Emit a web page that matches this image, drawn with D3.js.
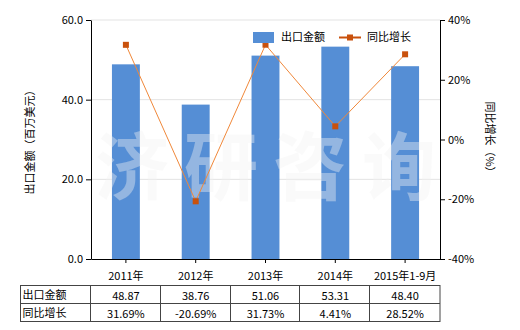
<!DOCTYPE html>
<html>
<head>
<meta charset="utf-8">
<script src="https://cdn.jsdelivr.net/npm/d3@7"></script>
<style>
  body { margin: 0; background: #fff; }
  svg text { font-family: "Noto Sans CJK SC", "DejaVu Sans", sans-serif; font-size: 11px; fill: #000; }
</style>
</head>
<body>
<svg width="520" height="330"></svg>
<script>
// chart data
var categories = ["2011年", "2012年", "2013年", "2014年", "2015年1-9月"];
var exportValues = [48.87, 38.76, 51.06, 53.31, 48.40];
var growthValues = [31.69, -20.69, 31.73, 4.41, 28.52];
var leftTicks = [0, 20, 40, 60];
var rightTicks = [-40, -20, 0, 20, 40];
var rowLabels = ["出口金额", "同比增长"];

var svg = d3.select("svg");
var margin = {top: 20, left: 91, right: 80, bottom: 71};
var width = 520 - margin.left - margin.right;
var height = 330 - margin.top - margin.bottom;

var x = d3.scaleBand().domain(categories).range([0, width]).paddingInner(0.6).paddingOuter(0.3);
var y = d3.scaleLinear().domain([0, 60]).range([height, 0]);
var y2 = d3.scaleLinear().domain([-40, 40]).range([height, 0]);

var g = svg.append("g").attr("transform", "translate(" + margin.left + "," + margin.top + ")");

// grid lines
g.selectAll(".grid")
  .data(leftTicks.slice(1))
  .enter().append("line")
    .attr("x1", 0).attr("x2", width)
    .attr("y1", function(d) { return y(d); })
    .attr("y2", function(d) { return y(d); })
    .attr("stroke", "#e3e3e3");

// bars
g.selectAll(".bar")
  .data(exportValues)
  .enter().append("rect")
    .attr("x", function(d, i) { return x(categories[i]); })
    .attr("y", function(d) { return y(d); })
    .attr("width", x.bandwidth())
    .attr("height", function(d) { return height - y(d); })
    .attr("fill", "#558ed5");

// watermark
var wm = ["济", "研", "咨", "询"];
g.selectAll(".wm")
  .data(wm)
  .enter().append("text")
    .attr("x", function(d, i) { return 4 + i * 89; })
    .attr("y", 174)
    .style("font-size", "74px")
    .style("font-weight", "bold")
    .style("fill", "#f2f2f2")
    .style("fill-opacity", 0.4)
    .text(function(d) { return d; });

// growth line
var cx = function(i) { return x(categories[i]) + x.bandwidth() / 2; };
var line = d3.line()
  .x(function(d, i) { return cx(i); })
  .y(function(d) { return y2(d); });

g.append("path")
  .datum(growthValues)
  .attr("d", line)
  .attr("fill", "none")
  .attr("stroke", "#f0883a")
  .attr("stroke-width", 1);

g.selectAll(".pt")
  .data(growthValues)
  .enter().append("rect")
    .attr("x", function(d, i) { return cx(i) - 3; })
    .attr("y", function(d) { return y2(d) - 3; })
    .attr("width", 6)
    .attr("height", 6)
    .attr("fill", "#c9510c");

// axes
var xAxis = g.append("g")
  .attr("transform", "translate(0," + height + ")")
  .call(d3.axisBottom(x).tickSize(4).tickSizeOuter(0));
xAxis.selectAll("text").attr("dy", "1.3em");

g.append("g")
  .call(d3.axisLeft(y).tickValues(leftTicks).tickFormat(d3.format(".1f")).tickSize(5).tickSizeOuter(0));

g.append("g")
  .attr("transform", "translate(" + width + ",0)")
  .call(d3.axisRight(y2).tickValues(rightTicks).tickFormat(function(d) { return d + "%"; }).tickSize(5).tickSizeOuter(0));

g.selectAll(".domain").attr("stroke", "#000");
g.selectAll(".tick line").attr("stroke", "#000");

// axis titles
svg.append("text")
  .attr("transform", "translate(30," + (margin.top + height / 2) + ") rotate(-90)")
  .attr("text-anchor", "middle")
  .attr("dy", "0.35em")
  .text("出口金额（百万美元）");

svg.append("text")
  .attr("transform", "translate(490," + (margin.top + height / 2) + ") rotate(90)")
  .attr("text-anchor", "middle")
  .attr("dy", "0.35em")
  .text("同比增长（%）");

// legend
var legend = svg.append("g");
legend.append("rect").attr("x", 253).attr("y", 32).attr("width", 21).attr("height", 11).attr("fill", "#558ed5");
legend.append("text").attr("x", 281).attr("y", 41).text("出口金额");
legend.append("line").attr("x1", 339).attr("x2", 361).attr("y1", 37.5).attr("y2", 37.5).attr("stroke", "#c9510c").attr("stroke-width", 2);
legend.append("rect").attr("x", 347).attr("y", 34.5).attr("width", 6).attr("height", 6).attr("fill", "#c9510c");
legend.append("text").attr("x", 367).attr("y", 41).text("同比增长");

// data table
var tableTop = 285.5, rowH = 18, tableLeft = 20.5;
var colX = function(i) { return margin.left + x.step() * i; };
var tbl = svg.append("g");
var rows = [exportValues.map(function(d) { return d.toFixed(2); }),
            growthValues.map(function(d) { return d.toFixed(2) + "%"; })];

tbl.append("rect")
  .attr("x", tableLeft).attr("y", tableTop)
  .attr("width", colX(categories.length) - tableLeft).attr("height", rowH * 2)
  .attr("fill", "none").attr("stroke", "#444");
tbl.append("line")
  .attr("x1", tableLeft).attr("x2", colX(categories.length))
  .attr("y1", tableTop + rowH).attr("y2", tableTop + rowH)
  .attr("stroke", "#444");
tbl.selectAll(".vline")
  .data(d3.range(categories.length))
  .enter().append("line")
    .attr("x1", function(i) { return Math.round(colX(i)) - 0.5; })
    .attr("x2", function(i) { return Math.round(colX(i)) - 0.5; })
    .attr("y1", tableTop).attr("y2", tableTop + rowH * 2)
    .attr("stroke", "#444");

rows.forEach(function(r, ri) {
  tbl.append("text")
    .attr("x", tableLeft + 2)
    .attr("y", tableTop + rowH * ri + 13)
    .text(rowLabels[ri]);
  tbl.selectAll(".cell" + ri)
    .data(r)
    .enter().append("text")
      .attr("x", function(d, i) { return colX(i) + x.step() / 2; })
      .attr("y", tableTop + rowH * ri + 14)
      .attr("text-anchor", "middle")
      .text(function(d) { return d; });
});
</script>
</body>
</html>
